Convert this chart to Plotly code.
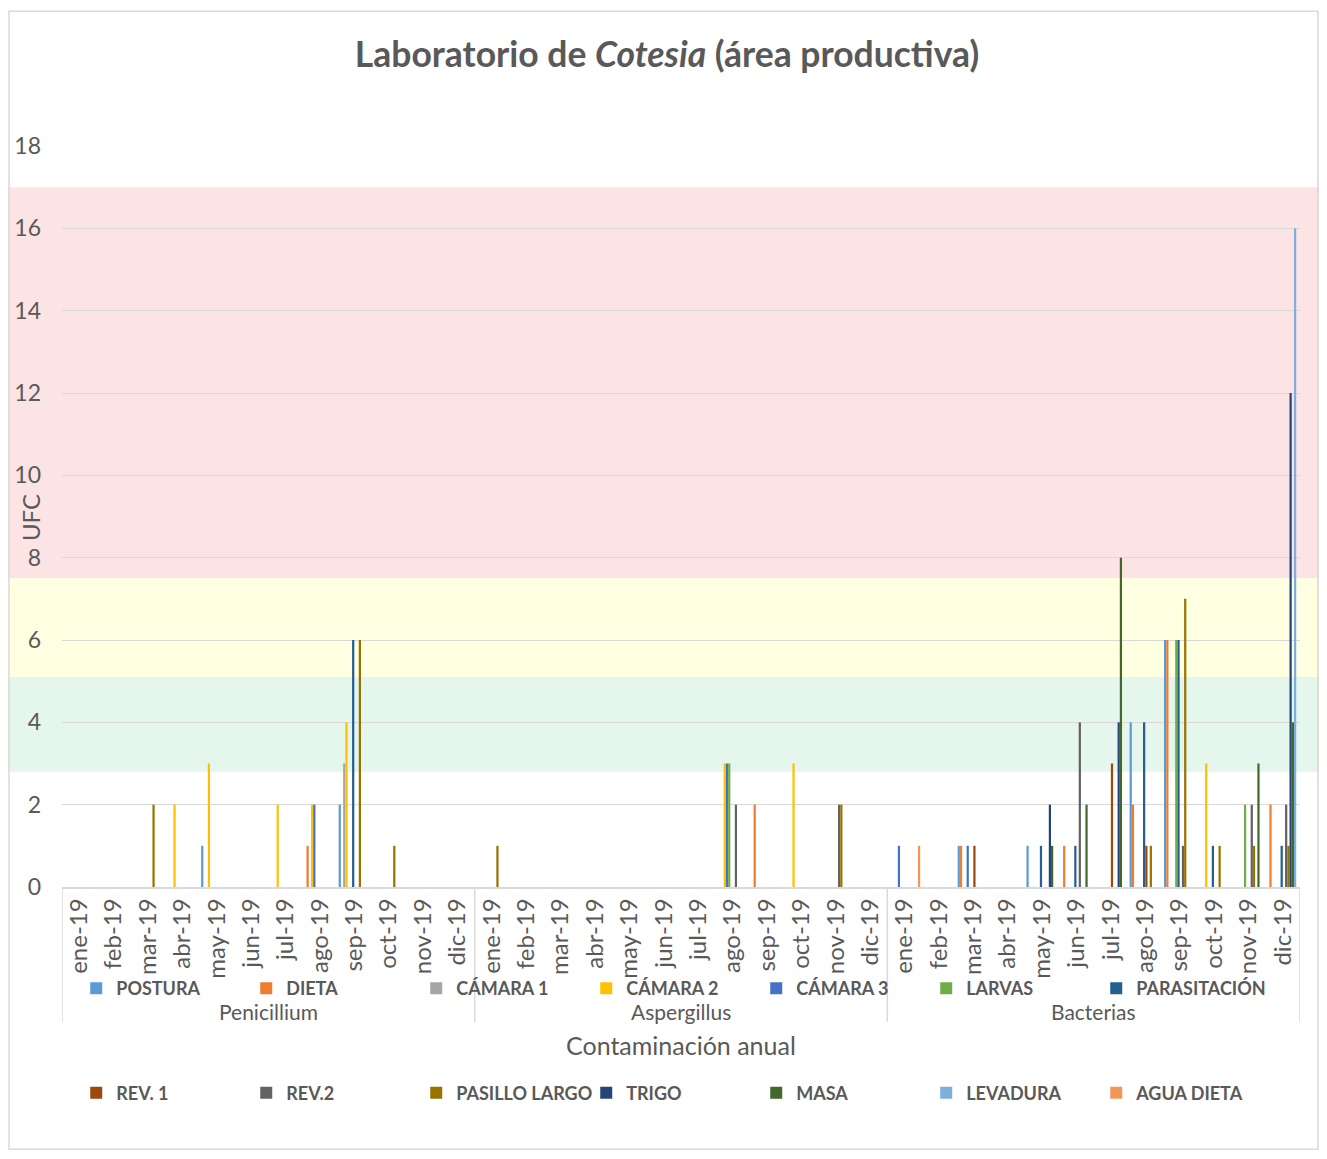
import plotly.graph_objects as go

# months and groups of the multi-level x axis
months = ["ene-19", "feb-19", "mar-19", "abr-19", "may-19", "jun-19",
          "jul-19", "ago-19", "sep-19", "oct-19", "nov-19", "dic-19"]
groups = ["Penicillium", "Aspergillus", "Bacterias"]

# UFC per month, order: Penicillium(12) + Aspergillus(12) + Bacterias(12)
postura      = [0,0,0,0,1,0,0,0,2,0,0,0,  0,0,0,0,0,0,0,0,0,0,0,0,  0,0,1,0,1,0,0,4,6,0,0,0]
dieta        = [0,0,0,0,0,0,0,1,0,0,0,0,  0,0,0,0,0,0,0,0,2,0,0,0,  0,0,1,0,0,1,0,2,6,0,0,2]
camara1      = [0,0,0,0,0,0,0,0,3,0,0,0,  0,0,0,0,0,0,0,0,0,0,0,0,  0,0,0,0,0,0,0,0,0,0,0,0]
camara2      = [0,0,0,2,3,0,2,2,4,0,0,0,  0,0,0,0,0,0,0,3,0,3,0,0,  0,0,0,0,0,0,0,0,0,3,0,0]
camara3      = [0,0,0,0,0,0,0,2,0,0,0,0,  0,0,0,0,0,0,0,3,0,0,0,0,  1,0,1,0,0,0,0,0,0,0,0,0]
larvas       = [0,0,0,0,0,0,0,0,0,0,0,0,  0,0,0,0,0,0,0,3,0,0,0,0,  0,0,0,0,0,0,0,0,6,0,2,0]
parasitacion = [0,0,0,0,0,0,0,0,6,0,0,0,  0,0,0,0,0,0,0,0,0,0,0,0,  0,0,0,0,1,1,0,4,6,1,0,1]
rev1         = [0,0,0,0,0,0,0,0,0,0,0,0,  0,0,0,0,0,0,0,0,0,0,0,0,  0,0,1,0,0,0,3,1,0,0,0,0]
rev2         = [0,0,0,0,0,0,0,0,0,0,0,0,  0,0,0,0,0,0,0,2,0,0,2,0,  0,0,0,0,0,4,0,0,1,0,2,2]
pasillo      = [0,0,2,0,0,0,0,0,6,1,0,0,  1,0,0,0,0,0,0,0,0,0,2,0,  0,0,0,0,0,0,0,1,7,1,1,1]
trigo        = [0,0,0,0,0,0,0,0,0,0,0,0,  0,0,0,0,0,0,0,0,0,0,0,0,  0,0,0,0,2,0,4,0,0,0,0,12]
masa         = [0,0,0,0,0,0,0,0,0,0,0,0,  0,0,0,0,0,0,0,0,0,0,0,0,  0,0,0,0,1,2,8,0,0,0,3,4]
levadura     = [0,0,0,0,0,0,0,0,0,0,0,0,  0,0,0,0,0,0,0,0,0,0,0,0,  0,0,0,0,0,0,0,0,0,0,0,16]
agua_dieta   = [0,0,0,0,0,0,0,0,0,0,0,0,  0,0,0,0,0,0,0,0,0,0,0,0,  1,0,0,0,0,0,0,0,0,0,0,0]

series = [
    ("POSTURA", postura, "#5B9BD5"),
    ("DIETA", dieta, "#ED7D31"),
    ("CÁMARA 1", camara1, "#A5A5A5"),
    ("CÁMARA 2", camara2, "#FFC000"),
    ("CÁMARA 3", camara3, "#4472C4"),
    ("LARVAS", larvas, "#70AD47"),
    ("PARASITACIÓN", parasitacion, "#255E91"),
    ("REV. 1", rev1, "#9E480E"),
    ("REV.2", rev2, "#636363"),
    ("PASILLO LARGO", pasillo, "#997300"),
    ("TRIGO", trigo, "#264478"),
    ("MASA", masa, "#43682B"),
    ("LEVADURA", levadura, "#7CAFDD"),
    ("AGUA DIETA", agua_dieta, "#F1975A"),
]

# risk bands (UFC)
bands = [(7.5, 17.0, "#FDE4E4"), (5.1, 7.5, "#FFFFE2"), (2.8, 5.1, "#E5F6EC")]

FONT = "Lato"
TXT = "#595959"
GRID = "#D9D9D9"

# page has an 8px body margin, keep the figure inside the window
W, H = 1311, 1143

xs = list(range(len(months) * len(groups)))
ticktext = months * len(groups)

fig = go.Figure()
for i, (name, vals, col) in enumerate(series):
    fig.add_trace(go.Bar(
        x=xs, y=vals, name=name, marker_color=col, marker_line_width=0,
        legend="legend" if i < 7 else "legend2",
    ))

shapes = []
for lo, hi, col in bands:
    shapes.append(dict(type="rect", xref="paper", yref="y", x0=-0.044, x1=1.03,
                       y0=lo, y1=hi, fillcolor=col, line_width=0, layer="below"))
# group dividers below the axis
for b in [-0.5, 11.5, 23.5, 35.5]:
    shapes.append(dict(type="line", xref="x", yref="paper", x0=b, x1=b,
                       y0=0, y1=-0.182, line=dict(color=GRID, width=1.5)))
# chart frame
shapes.append(dict(type="rect", xref="paper", yref="paper", x0=-0.0428, x1=1.0145,
                   y0=-0.354, y1=1.182, line=dict(color=GRID, width=1.5), layer="below"))

annotations = []
for g, name in enumerate(groups):
    annotations.append(dict(text=name, x=g * 12 + 5.5, xref="x", y=-0.1685, yref="paper",
                            xanchor="center", yanchor="middle", showarrow=False,
                            font=dict(family=FONT, size=21, color=TXT)))
annotations.append(dict(text="Contaminación anual", x=0.5, xref="paper", y=-0.2132,
                        yref="paper", xanchor="center", yanchor="middle", showarrow=False,
                        font=dict(family=FONT, size=25, color=TXT)))
annotations.append(dict(text="UFC", x=-0.026, xref="paper", y=0.499, yref="paper",
                        xanchor="center", yanchor="middle", textangle=-90, showarrow=False,
                        font=dict(family=FONT, size=24, color=TXT)))

legend_style = dict(orientation="h", xanchor="left", yanchor="middle",
                    entrywidth=125, entrywidthmode="pixels", bgcolor="rgba(0,0,0,0)",
                    font=dict(family=FONT, size=18, color=TXT, weight="bold"),
                    itemwidth=30, tracegroupgap=0)

fig.update_layout(
    width=W, height=H,
    margin=dict(l=54, r=19, t=138, b=264),
    paper_bgcolor="white", plot_bgcolor="rgba(0,0,0,0)",
    title=dict(text="<b>Laboratorio de <i>Cotesia</i> (área productiva)</b>",
               x=(667 - 8) / W, xref="container", xanchor="center",
               y=1 - 47 / H, yanchor="middle",
               font=dict(family=FONT, size=35.5, color=TXT)),
    barmode="group", bargap=0.09, bargroupgap=0,
    xaxis=dict(range=[-0.5, 35.5], tickmode="array", tickvals=xs, ticktext=ticktext,
               tickangle=-90, showgrid=False, zeroline=False, showline=True,
               linecolor=GRID, linewidth=1.5, ticks="", automargin=False,
               tickfont=dict(family=FONT, size=24, color=TXT)),
    yaxis=dict(range=[0, 18], dtick=2, showgrid=True, gridcolor=GRID, gridwidth=1,
               zeroline=False, showline=False, ticks="", ticklabelstandoff=20,
               automargin=False,
               tickfont=dict(family=FONT, size=23, color=TXT)),
    legend=dict(x=0.0115, y=-0.137, **legend_style),
    legend2=dict(x=0.0115, y=-0.278, **legend_style),
    shapes=shapes, annotations=annotations,
    showlegend=True,
)

fig.write_html("out.html")
